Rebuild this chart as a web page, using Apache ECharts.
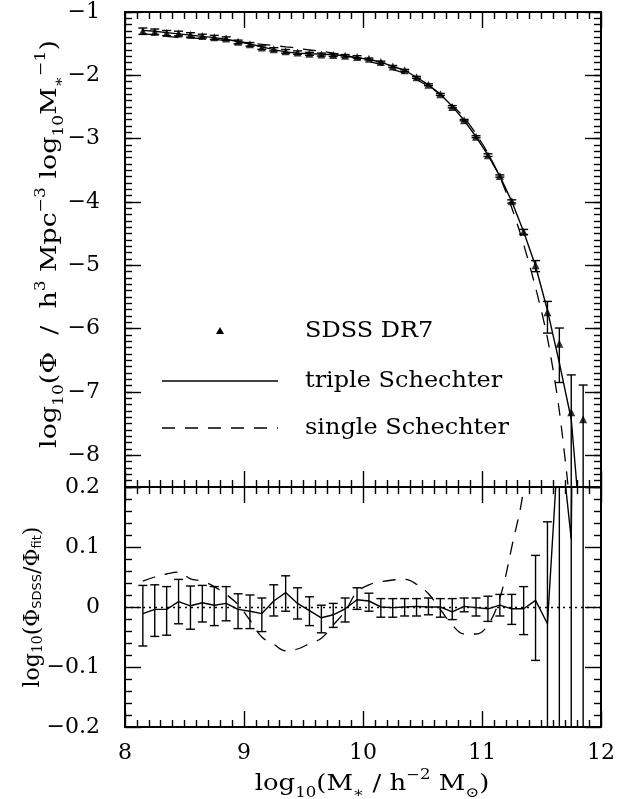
<!DOCTYPE html>
<html>
<head>
<meta charset="utf-8">
<script src="https://cdn.jsdelivr.net/npm/echarts@6/dist/echarts.min.js"></script>
<style>
  html, body { margin: 0; padding: 0; background: #fff; }
  #chart { width: 629px; height: 799px; }
</style>
</head>
<body>
<div id="chart"></div>
<script>
// bin centres, log10(M* / h^-2 Msun)
const massBins = [8.15, 8.25, 8.35, 8.45, 8.55, 8.65, 8.75, 8.85, 8.95, 9.05,
  9.15, 9.25, 9.35, 9.45, 9.55, 9.65, 9.75, 9.85, 9.95, 10.05,
  10.15, 10.25, 10.35, 10.45, 10.55, 10.65, 10.75, 10.85, 10.95, 11.05,
  11.15, 11.25, 11.35, 11.45, 11.55, 11.65, 11.75, 11.85];

// SDSS DR7 mass function, log10(phi)
const smfSDSS = [-1.30, -1.31, -1.33, -1.34, -1.36, -1.38, -1.40, -1.42, -1.47, -1.51,
  -1.56, -1.59, -1.62, -1.64, -1.66, -1.67, -1.68, -1.69, -1.71, -1.74,
  -1.79, -1.86, -1.92, -2.03, -2.15, -2.30, -2.50, -2.71, -2.97, -3.26,
  -3.59, -3.99, -4.47, -5.00, -5.74, -6.24, -7.32, -7.43];

// error bar half-lengths in dex (3.0 = runs past the frame)
const errUp = [0.047, 0.041, 0.038, 0.037, 0.033, 0.029, 0.031, 0.028, 0.026, 0.027,
  0.026, 0.027, 0.028, 0.026, 0.023, 0.021, 0.019, 0.018, 0.020, 0.013,
  0.014, 0.015, 0.014, 0.013, 0.015, 0.014, 0.022, 0.014, 0.016, 0.021,
  0.018, 0.024, 0.037, 0.075, 0.17, 0.25, 0.59, 0.54];
const errDn = [0.054, 0.045, 0.043, 0.037, 0.039, 0.032, 0.034, 0.029, 0.032, 0.029,
  0.030, 0.025, 0.031, 0.026, 0.025, 0.025, 0.021, 0.022, 0.016, 0.017,
  0.017, 0.016, 0.015, 0.016, 0.013, 0.017, 0.013, 0.009, 0.014, 0.021,
  0.018, 0.026, 0.043, 0.100, 0.33, 0.61, 3.0, 3.0];

// fits, log10(phi)
const tripleFit = [-1.29, -1.305, -1.325, -1.345, -1.365, -1.385, -1.405, -1.43, -1.465, -1.505,
  -1.55, -1.595, -1.63, -1.65, -1.66, -1.665, -1.675, -1.69, -1.72, -1.75,
  -1.79, -1.86, -1.92, -2.03, -2.15, -2.30, -2.49, -2.71, -2.97, -3.26,
  -3.59, -3.99, -4.47, -5.01, -5.71, -6.54, -7.43, -9.65];
const singleFit = [-1.34, -1.36, -1.385, -1.40, -1.41, -1.42, -1.435, -1.445, -1.47, -1.49,
  -1.51, -1.53, -1.55, -1.57, -1.60, -1.62, -1.65, -1.68, -1.735, -1.78,
  -1.83, -1.905, -1.97, -2.07, -2.17, -2.30, -2.47, -2.665, -2.925, -3.23,
  -3.605, -4.09, -4.67, -5.35, -6.15, -7.30, -8.95, null];

// residuals log10(phi_SDSS / phi_fit)
const residTriple = [-0.011, -0.004, -0.004, 0.009, 0.002, 0.007, 0.003, 0.006, -0.004, -0.007,
  -0.011, 0.010, 0.024, 0.006, -0.006, -0.018, -0.013, -0.003, 0.012, 0.010,
  0.000, -0.001, 0.000, 0.001, 0.000, 0.000, -0.008, 0.001, -0.001, -0.003,
  0.003, -0.003, -0.003, 0.011, -0.028, 0.30, 0.113, 2.2];
const residSingle = [0.043, 0.050, 0.055, 0.058, 0.047, 0.043, 0.034, 0.021, 0.004, -0.022,
  -0.050, -0.062, -0.073, -0.070, -0.061, -0.052, -0.030, -0.007, 0.025, 0.037,
  0.042, 0.045, 0.046, 0.038, 0.022, -0.004, -0.030, -0.045, -0.045, -0.030,
  0.015, 0.100, 0.200, 0.45, null, null, null, null];

// tick values and their printed labels
const topTicks = [-8, -7, -6, -5, -4, -3, -2, -1];
const topLabels = ['\u22128', '\u22127', '\u22126', '\u22125', '\u22124', '\u22123', '\u22122', '\u22121'];
const botTicks = [-0.2, -0.1, 0, 0.1, 0.2];
const botLabels = ['\u22120.2', '\u22120.1', '0', '0.1', '0.2'];
const xTicks = [8, 9, 10, 11, 12];

const serif = 'DejaVu Serif';
const pairs = ys => massBins.map((x, i) => [x, ys[i]]);
const lookup = (ticks, labels, v) => {
  const i = ticks.findIndex(t => Math.abs(t - v) < 1e-6);
  return i < 0 ? '' : labels[i];
};

// axes ------------------------------------------------------------
function xAx(grid, pos, labels) {
  return {
    type: 'value', gridIndex: grid, position: pos, min: 8, max: 12, interval: 1,
    axisLine: { show: true, onZero: false, lineStyle: { color: '#000', width: 2 } },
    axisTick: { show: true, inside: true, length: 16, lineStyle: { color: '#000', width: 1.4 } },
    minorTick: { show: true, splitNumber: 10, length: 7, lineStyle: { color: '#000', width: 1.4 } },
    splitLine: { show: false }, minorSplitLine: { show: false },
    axisLabel: {
      show: labels, margin: 15, color: '#000', fontFamily: serif, fontSize: 22,
      formatter: v => lookup(xTicks, xTicks.map(String), v)
    }
  };
}
function yAx(grid, pos, opts, labels, tickLen, ticks, texts) {
  return Object.assign({
    type: 'value', gridIndex: grid, position: pos,
    axisLine: { show: true, onZero: false, lineStyle: { color: '#000', width: 2 } },
    axisTick: { show: true, inside: true, length: tickLen, lineStyle: { color: '#000', width: 1.4 } },
    splitLine: { show: false }, minorSplitLine: { show: false },
    axisLabel: {
      show: labels, margin: 25, color: '#000', fontFamily: serif, fontSize: 22, hideOverlap: false,
      formatter: v => lookup(ticks || [], texts || [], v)
    }
  }, opts);
}
// long ticks at whole numbers (min/maxInterval so ticks are not counted from -8.5)
const topLong = { min: -8.5, max: -1, splitNumber: 8, minInterval: 1, maxInterval: 1 };
// short ticks every 0.1
const topShort = { min: -8.5, max: -1, interval: 0.1 };
const botOpts = {
  min: -0.2, max: 0.2, interval: 0.1,
  minorTick: { show: true, splitNumber: 5, length: 7, lineStyle: { color: '#000', width: 1.4 } }
};

// error bars drawn as custom marks -----------------------------------
function errorBars(xi, yi, centre) {
  return {
    type: 'custom', xAxisIndex: xi, yAxisIndex: yi, z: 4, silent: true,
    encode: { x: 0, y: [1, 2] },
    data: massBins.map((x, i) => [x, centre[i] - errDn[i], centre[i] + errUp[i]]),
    renderItem(params, api) {
      const r = params.coordSys;
      const p1 = api.coord([api.value(0), api.value(1)]);
      const p2 = api.coord([api.value(0), api.value(2)]);
      const top = r.y, bot = r.y + r.height;
      let lo = p1[1], hi = p2[1];
      if (hi > bot || lo < top) return;
      const loIn = lo <= bot, hiIn = hi >= top;
      lo = Math.min(lo, bot); hi = Math.max(hi, top);
      const x = p1[0];
      const st = { stroke: '#000', lineWidth: 1.4 };
      const kids = [{ type: 'line', shape: { x1: x, y1: lo, x2: x, y2: hi }, style: st }];
      if (loIn) kids.push({ type: 'line', shape: { x1: x - 4.5, y1: lo, x2: x + 4.5, y2: lo }, style: st });
      if (hiIn) kids.push({ type: 'line', shape: { x1: x - 4.5, y1: hi, x2: x + 4.5, y2: hi }, style: st });
      return { type: 'group', children: kids };
    }
  };
}

// rich text for axis titles
const rich = {
  n: { fontFamily: serif, fontSize: 22, lineHeight: 36, fill: '#000', verticalAlign: 'middle' },
  sub: { fontFamily: serif, fontSize: 14, lineHeight: 14, fill: '#000', padding: [18, 0, 0, 0], verticalAlign: 'middle' },
  sup: { fontFamily: serif, fontSize: 14, lineHeight: 14, fill: '#000', padding: [0, 0, 18, 0], verticalAlign: 'middle' }
};
// tighter boxes for the lower title, which sits next to the tick labels
const richTight = {
  n: { fontFamily: serif, fontSize: 22, lineHeight: 22, fill: '#000', verticalAlign: 'middle' },
  sub: { fontFamily: serif, fontSize: 14, lineHeight: 12, fill: '#000', padding: [10, 0, 0, 0], verticalAlign: 'middle' },
  ssub: { fontFamily: 'DejaVu Sans', fontSize: 13, lineHeight: 12, fill: '#000', padding: [10, 0, 0, 0], verticalAlign: 'middle' }
};
function title(text, x, y, rot, stretch, richSet) {
  return {
    type: 'text', x: x, y: y, rotation: rot || 0, scaleX: stretch || 1, silent: true, z: -10,
    style: { text: text, rich: richSet || rich, fontFamily: serif, fontSize: 22, fill: '#000',
      align: 'center', verticalAlign: 'middle' }
  };
}
function legendText(text, y) {
  return { type: 'text', x: 305, y: y, scaleX: 1.09, silent: true,
    style: { text: text, fontFamily: serif, fontSize: 22, fill: '#000', align: 'left', verticalAlign: 'middle' } };
}

const chart = echarts.init(document.getElementById('chart'), null, { renderer: 'canvas' });
chart.setOption({
  animation: false,
  backgroundColor: '#fff',
  grid: [
    { left: 125, top: 12, width: 476, height: 475, outerBoundsMode: 'none' },
    { left: 125, top: 487, width: 476, height: 240, outerBoundsMode: 'none' }
  ],
  xAxis: [
    xAx(0, 'bottom', false), xAx(0, 'top', false),
    xAx(1, 'bottom', true), xAx(1, 'top', false)
  ],
  yAxis: [
    yAx(0, 'left', topShort, false, 7),
    yAx(0, 'left', topLong, true, 16, topTicks, topLabels),
    yAx(0, 'right', topShort, false, 7),
    yAx(0, 'right', topLong, false, 16),
    yAx(1, 'left', botOpts, true, 16, botTicks, botLabels),
    yAx(1, 'right', botOpts, false, 16)
  ],
  series: [
    {
      name: 'triple Schechter', type: 'line', xAxisIndex: 0, yAxisIndex: 0,
      data: pairs(tripleFit), showSymbol: false, clip: true, z: 3,
      lineStyle: { color: '#000', width: 1.4 }
    },
    {
      name: 'single Schechter', type: 'line', xAxisIndex: 0, yAxisIndex: 0,
      data: pairs(singleFit), showSymbol: false, smooth: 0.3, clip: true, z: 3,
      lineStyle: { color: '#000', width: 1.3, type: [13, 10] }
    },
    errorBars(0, 0, smfSDSS),
    {
      name: 'SDSS DR7', type: 'scatter', xAxisIndex: 0, yAxisIndex: 0,
      data: pairs(smfSDSS), symbol: 'triangle', symbolSize: 8, z: 5,
      itemStyle: { color: '#000' }
    },
    {
      name: 'triple resid', type: 'line', xAxisIndex: 2, yAxisIndex: 4,
      data: pairs(residTriple), showSymbol: false, clip: true, z: 3,
      lineStyle: { color: '#000', width: 1.4 },
      markLine: {
        silent: true, symbol: 'none', label: { show: false },
        lineStyle: { color: '#000', width: 1.3, type: [2, 4] },
        data: [{ yAxis: 0 }]
      }
    },
    {
      name: 'single resid', type: 'line', xAxisIndex: 2, yAxisIndex: 4,
      data: pairs(residSingle), showSymbol: false, smooth: 0.4, clip: true, z: 3,
      lineStyle: { color: '#000', width: 1.3, type: [13, 10] }
    },
    errorBars(2, 4, residTriple)
  ],
  graphic: [
    { type: 'polygon', silent: true, shape: { points: [[216, 334], [224, 334], [220, 327]] }, style: { fill: '#000' } },
    legendText('SDSS DR7', 331),
    { type: 'line', silent: true, shape: { x1: 162, y1: 381, x2: 278, y2: 381 }, style: { stroke: '#000', lineWidth: 1.4 } },
    legendText('triple Schechter', 381),
    { type: 'line', silent: true, shape: { x1: 162, y1: 428, x2: 278, y2: 428 }, style: { stroke: '#000', lineWidth: 1.3, lineDash: [13, 10] } },
    legendText('single Schechter', 428),
    title('{n|log}{sub|10}{n|(M}{sub|\u2217}{n| / h}{sup|\u22122}{n| M}{sub|\u2299}{n|)}', 372, 784, 0, 1.18),
    title('{n|log}{sub|10}{n|(\u03a6  /  h}{sup|3}{n| Mpc}{sup|\u22123}{n| log}{sub|10}{n|M}{sub|\u2217}{sup|\u22121}{n|)}', 50, 244, Math.PI / 2, 1.22),
    title('{n|log}{sub|10}{n|(\u03a6}{ssub|SDSS}{n|/\u03a6}{ssub|fit}{n|)}', 33, 607, Math.PI / 2, 1, richTight)
  ]
});
</script>
</body>
</html>
